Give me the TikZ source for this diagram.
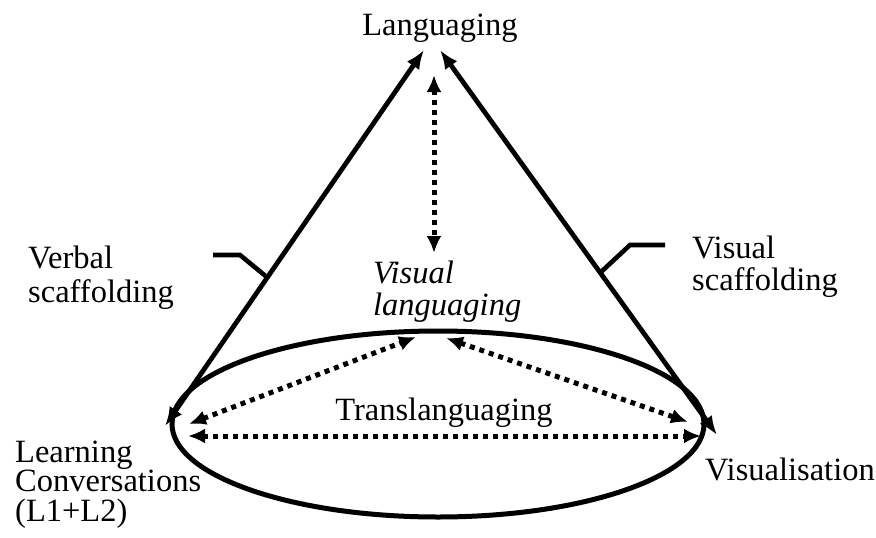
\documentclass[tikz,border=0pt]{standalone}
\usepackage{fontspec}
\setmainfont{Liberation Serif}
\usetikzlibrary{arrows.meta}

\tikzset{
  side/.style={{Latex[length=19pt,width=15pt]}-{Latex[length=19pt,width=15pt]}, line width=4.8pt},
  dotarrow/.style={{Latex[length=17pt,width=15pt]}-{Latex[length=17pt,width=15pt]}, line width=5pt, dash pattern=on 5pt off 5pt},
  hook/.style={line width=4.6pt},
  lbl/.style={inner sep=0pt, font=\fontsize{32.5}{33}\selectfont, align=left},
}

\begin{document}
\begin{tikzpicture}[x=1pt, y=-1pt]
    \useasboundingbox (0,0) rectangle (876,538);

    % labels (base = last line)
    \node[lbl, anchor=base] (lang) at (440,35) {Languaging};
    \node[lbl, anchor=base west, font=\fontsize{32.5}{34}\selectfont] (verbal) at (28,302) {Verbal\\scaffolding};
    \node[lbl, anchor=base west, font=\fontsize{32.5}{32}\selectfont] (visual) at (692,290) {Visual\\scaffolding};
    \node[lbl, anchor=base west, font=\fontsize{32.5}{32}\selectfont\itshape] (vislang) at (373,315) {Visual\\languaging};
    \node[lbl, anchor=base] (trans) at (444,420) {Translanguaging};
    \node[lbl, anchor=base west, font=\fontsize{32.5}{29.5}\selectfont] (learn) at (15,521) {Learning\\Conversations\\(L1+L2)};
    \node[lbl, anchor=base west] (visn) at (705,480) {Visualisation};

    % cone
    \coordinate (ltop) at (424,50);
    \coordinate (lbot) at (165,426);
    \coordinate (rtop) at (440,50);
    \coordinate (rbot) at (717,435);
    \draw[side] (lbot) -- (ltop);
    \draw[side] (rbot) -- (rtop);
    \draw[line width=5pt] (438,424) ellipse [x radius=266, y radius=93];

    % scaffolding hooks
    \draw[hook] (213,255) -- (240,255) -- (268,278);
    \draw[hook] (665,245) -- (630,245) -- (601,272);

    % dotted arrows
    \coordinate (vtop) at (434,75);
    \coordinate (vbot) at (434,253);
    \coordinate (mleft) at (416,337);
    \coordinate (mright) at (446,338);
    \coordinate (eleft) at (189,424);
    \coordinate (eright) at (688,422);
    \coordinate (hleft) at (188,436);
    \coordinate (hright) at (701,436);
    \draw[dotarrow] (vtop) -- (vbot);
    \draw[dotarrow] (eleft) -- (mleft);
    \draw[dotarrow] (mright) -- (eright);
    \draw[dotarrow] (hleft) -- (hright);
\end{tikzpicture}
\end{document}
